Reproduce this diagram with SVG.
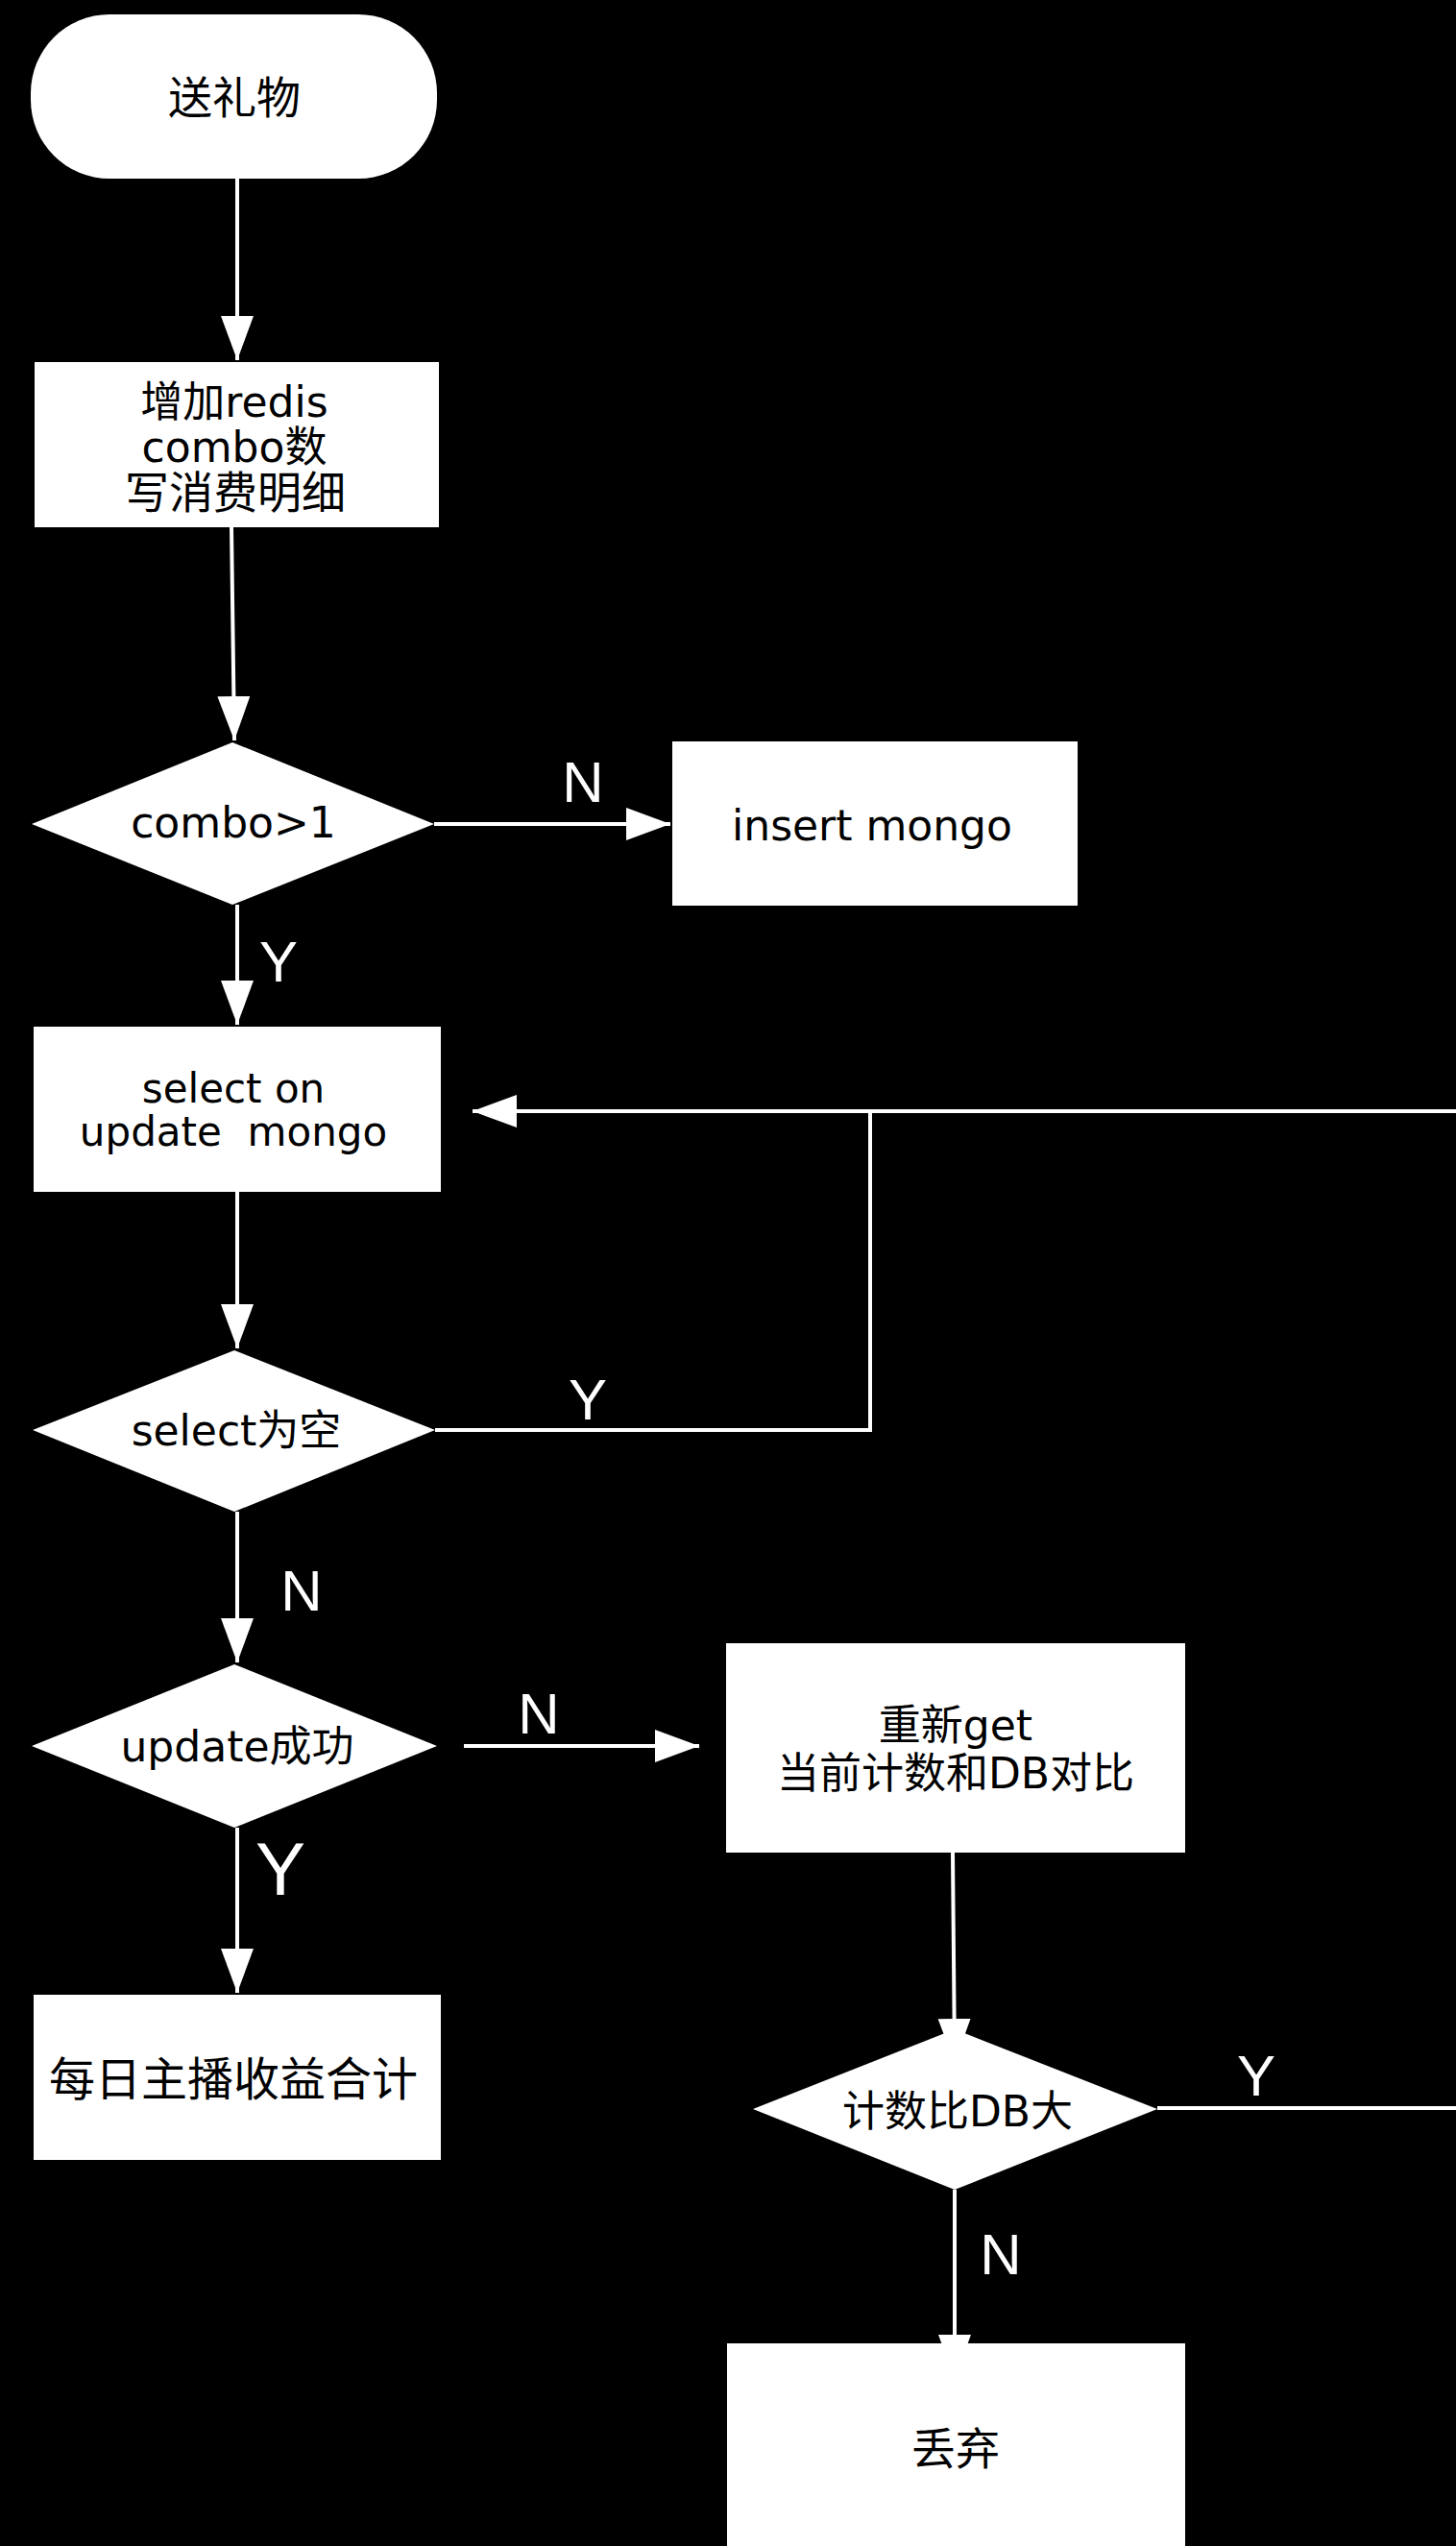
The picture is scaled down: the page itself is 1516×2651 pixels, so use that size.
<svg xmlns="http://www.w3.org/2000/svg" width="1516" height="2651" viewBox="0 0 1516 2651">
<style>
.node{fill:#ffffff;stroke:none}
.t{font-family:"DejaVu Sans","Noto Sans CJK SC",sans-serif;font-size:44px;fill:#000000;text-anchor:middle}
.c{font-size:46px}
.lbl{font-family:"Liberation Sans","Noto Sans CJK SC",sans-serif;font-size:60px;fill:#ffffff;text-anchor:middle}
.ln{fill:none;stroke:#ffffff;stroke-width:4}
</style>
<defs>
<marker id="ah" markerUnits="userSpaceOnUse" markerWidth="46" markerHeight="34" refX="46" refY="17" orient="auto">
<path d="M0,0 L46,17 L0,34 z" fill="#ffffff"/>
</marker>
</defs>
<rect x="0" y="0" width="1516" height="2651" fill="#000000"/>
<g id="connectors">
<line class="ln" x1="247" y1="186" x2="247" y2="375" marker-end="url(#ah)"/>
<line class="ln" x1="241" y1="549" x2="244" y2="771" marker-end="url(#ah)"/>
<line class="ln" x1="452" y1="858" x2="698" y2="858" marker-end="url(#ah)"/>
<line class="ln" x1="247" y1="942" x2="247" y2="1067" marker-end="url(#ah)"/>
<line class="ln" x1="247" y1="1241" x2="247" y2="1404" marker-end="url(#ah)"/>
<polyline class="ln" points="453,1489 906,1489 906,1157"/>
<line class="ln" x1="1516" y1="1157" x2="492" y2="1157" marker-end="url(#ah)"/>
<line class="ln" x1="247" y1="1574" x2="247" y2="1731" marker-end="url(#ah)"/>
<line class="ln" x1="483" y1="1818" x2="728" y2="1818" marker-end="url(#ah)"/>
<line class="ln" x1="247" y1="1903" x2="247" y2="2075" marker-end="url(#ah)"/>
<line class="ln" x1="992" y1="1929" x2="994" y2="2148" marker-end="url(#ah)"/>
<line class="ln" x1="1205" y1="2195" x2="1516" y2="2195"/>
<line class="ln" x1="994" y1="2280" x2="994" y2="2477" marker-end="url(#ah)"/>
<text class="lbl" x="607" y="835">N</text>
<text class="lbl" x="290" y="1022">Y</text>
<text class="lbl" x="612" y="1478">Y</text>
<text class="lbl" x="314" y="1677">N</text>
<text class="lbl" x="561" y="1805">N</text>
<text class="lbl" x="292" y="1973" style="font-size:78px">Y</text>
<text class="lbl" x="1308" y="2182">Y</text>
<text class="lbl" x="1042" y="2368">N</text>
</g>
<g id="start">
<rect class="node" x="32" y="15" width="423" height="171" rx="82" ry="82"/>
<text class="t c" x="244" y="118">送礼物</text>
</g>
<g id="incr">
<rect class="node" x="36" y="377" width="421" height="172"/>
<text class="t" x="244" y="434">增加redis</text>
<text class="t" x="244" y="481">combo数</text>
<text class="t c" x="245" y="529">写消费明细</text>
</g>
<g id="combo">
<polygon class="node" points="242,773 452,858 242,942 33,858"/>
<text class="t" x="243" y="872">combo&gt;1</text>
</g>
<g id="insert">
<rect class="node" x="700" y="772" width="422" height="171"/>
<text class="t" x="908" y="875">insert mongo</text>
</g>
<g id="selupd">
<rect class="node" x="35" y="1069" width="424" height="172"/>
<text class="t" x="243" y="1148" style="font-size:42px">select on</text>
<text class="t" x="243" y="1193" style="font-size:42px" xml:space="preserve">update  mongo</text>
</g>
<g id="selempty">
<polygon class="node" points="244,1406 453,1489 244,1574 34,1489"/>
<text class="t" x="246" y="1505">select为空</text>
</g>
<g id="updok">
<polygon class="node" points="244,1733 455,1818 244,1903 33,1818"/>
<text class="t" x="247" y="1834">update成功</text>
</g>
<g id="reget">
<rect class="node" x="756" y="1711" width="478" height="218"/>
<text class="t" x="995" y="1812">重新get</text>
<text class="t" x="995" y="1862">当前计数和DB对比</text>
</g>
<g id="daily">
<rect class="node" x="35" y="2077" width="424" height="172"/>
<text class="t" x="243" y="2182" style="font-size:48px">每日主播收益合计</text>
</g>
<g id="cmp">
<polygon class="node" points="994,2113 1205,2196 994,2280 784,2196"/>
<text class="t" x="997" y="2214">计数比DB大</text>
</g>
<g id="drop">
<rect class="node" x="757" y="2440" width="477" height="220"/>
<text class="t c" x="995" y="2566">丢弃</text>
</g>
</svg>
